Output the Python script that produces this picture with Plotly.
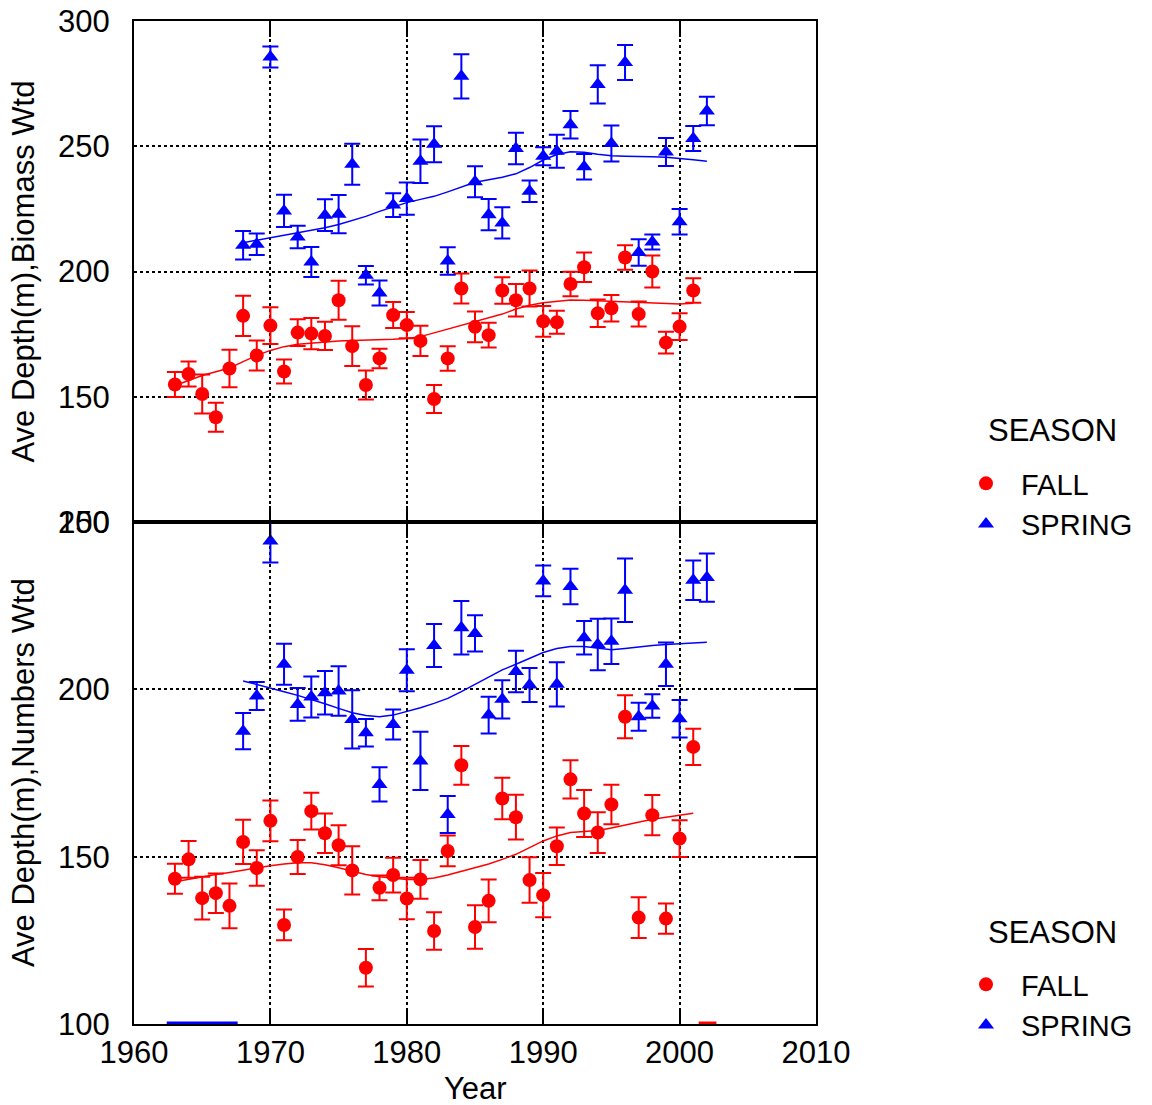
import plotly.graph_objects as go

# ---------------- data ----------------
fall_years = list(range(1963, 2002))
spring_years = list(range(1968, 2003))

# Top panel: Biomass weighted
bio_fall = [154.9, 159.1, 151.1, 141.8, 161.3, 182.3, 166.5, 178.4, 160.1, 175.6,
            175.2, 174.3, 188.5, 170.2, 154.7, 165.3, 182.6, 178.6, 172.3, 149.1,
            165.3, 193.2, 177.9, 174.6, 192.4, 188.5, 193.2, 180.1, 179.7, 195.0,
            201.7, 183.3, 185.3, 205.6, 183.0, 200.0, 171.6, 178.0, 192.4]
bio_fall_err = [5.0, 5.0, 7.8, 5.8, 7.5, 8.0, 6.0, 7.3, 4.8, 5.3,
                6.2, 5.6, 7.8, 7.9, 5.8, 3.9, 5.2, 5.2, 6.0, 5.6,
                4.9, 6.0, 6.1, 4.9, 5.3, 6.5, 7.2, 6.1, 4.6, 4.9,
                5.9, 5.5, 5.3, 4.9, 5.0, 6.4, 4.3, 5.3, 4.9]
bio_fall_smooth = [154.5, 156.5, 158.5, 160.0, 161.5, 164.0, 166.5, 168.5, 170.0, 171.0,
                   171.5, 172.0, 172.3, 172.5, 172.6, 172.8, 173.0, 173.3, 174.0, 175.5,
                   177.0, 178.5, 180.0, 181.5, 183.0, 185.0, 186.5, 187.5, 188.2, 188.6,
                   188.5, 188.3, 188.0, 187.8, 187.5, 187.3, 187.1, 187.0, 187.3]

bio_spring = [210.5, 210.9, 285.6, 224.2, 213.8, 203.8, 222.5, 222.9, 242.8, 198.5,
              191.4, 226.5, 229.1, 244.0, 250.8, 204.2, 277.9, 235.8, 222.7, 219.4,
              249.1, 232.0, 246.0, 248.0, 258.6, 241.8, 274.7, 251.1, 283.4, 207.6,
              211.8, 247.7, 219.9, 253.1, 264.1]
bio_spring_err = [5.7, 4.3, 4.2, 6.4, 4.5, 6.0, 6.3, 7.6, 8.2, 3.7,
                  5.0, 4.7, 6.4, 8.7, 7.2, 5.5, 8.8, 6.2, 6.2, 6.2,
                  6.3, 4.3, 3.6, 6.6, 5.5, 5.1, 7.6, 7.2, 7.0, 5.3,
                  3.0, 5.6, 5.1, 5.0, 5.7]
bio_spring_smooth = [211.5, 212.5, 213.5, 214.5, 215.3, 216.5, 217.5, 218.8, 220.3, 222.0,
                     224.0, 225.8, 227.5, 228.8, 230.0, 231.8, 233.7, 235.6, 236.6, 237.6,
                     239.0, 241.5, 244.5, 246.7, 247.8, 247.6, 246.8, 246.2, 246.0, 246.0,
                     245.8, 245.6, 245.2, 244.6, 244.0]

# Bottom panel: Numbers weighted
num_fall = [143.4, 149.2, 137.6, 139.1, 135.3, 154.4, 146.6, 160.7, 129.6, 149.9,
            163.6, 157.0, 153.4, 145.9, 116.8, 140.7, 144.5, 137.5, 143.2, 127.8,
            151.7, 177.3, 129.0, 136.8, 167.4, 161.8, 143.0, 138.5, 153.1, 173.1,
            162.9, 157.2, 165.6, 191.8, 131.8, 162.4, 131.5, 155.4, 182.8]
num_fall_err = [4.5, 5.5, 6.4, 5.9, 6.7, 6.6, 5.3, 6.1, 4.6, 5.1,
                5.5, 5.9, 6.0, 7.2, 5.6, 3.7, 5.2, 6.2, 5.8, 5.6,
                4.6, 5.8, 6.5, 6.4, 6.2, 6.7, 6.8, 6.6, 5.6, 5.7,
                7.0, 6.1, 5.9, 6.4, 6.1, 6.0, 4.5, 5.5, 5.4]
num_fall_smooth = [142.5, 143.3, 144.0, 144.7, 145.3, 146.0, 146.7, 147.3, 147.8, 148.2,
                   148.2, 147.6, 146.7, 145.7, 144.7, 144.0, 143.5, 143.2, 143.2, 143.6,
                   144.5, 145.6, 146.7, 147.8, 149.2, 150.7, 152.7, 154.7, 156.2, 157.2,
                   157.5, 157.8, 158.6, 159.5, 160.3, 161.2, 161.8, 162.4, 163.0]

num_spring = [187.5, 198.0, 244.3, 207.5, 195.5, 197.7, 199.0, 199.5, 191.0, 187.0,
              171.6, 189.5, 205.7, 178.6, 213.1, 162.6, 218.4, 216.7, 192.3, 197.0,
              205.3, 201.3, 232.4, 201.5, 230.7, 215.4, 213.4, 214.4, 229.6, 191.8,
              195.0, 207.5, 191.2, 232.6, 233.4]
num_spring_err = [5.4, 4.2, 6.4, 6.1, 4.9, 6.1, 6.5, 7.4, 8.7, 4.1,
                  5.1, 4.5, 6.3, 8.7, 6.4, 5.5, 8.0, 5.4, 5.5, 5.7,
                  6.2, 5.1, 4.6, 6.6, 5.3, 5.0, 7.7, 6.8, 9.5, 4.2,
                  3.5, 6.5, 5.6, 5.9, 7.2]
num_spring_smooth = [202.5, 201.5, 200.5, 199.3, 198.2, 197.0, 195.7, 194.3, 193.0, 192.2,
                     191.8, 192.3, 193.3, 194.5, 195.8, 197.3, 199.3, 201.5, 203.8, 205.8,
                     207.5, 209.3, 211.0, 212.2, 212.8, 212.8, 212.3, 211.8, 212.2, 212.7,
                     213.1, 213.4, 213.7, 213.9, 214.1]

# stray segments along the bottom axis
stray_spring_x = [1962.4, 1967.6]
stray_fall_x = [2001.4, 2002.7]
stray_y = [100, 100]

RED = "#ff0000"
BLUE = "#0000ff"
FONT = "Liberation Sans, Arial, sans-serif"

fig = go.Figure()


def add_panel(xa, ya, fy, fv, fe, fs, sy, sv, se, ss, legend):
    fig.add_trace(go.Scatter(x=sy, y=ss, mode="lines", line=dict(color=BLUE, width=1.5),
                             xaxis=xa, yaxis=ya, showlegend=False, hoverinfo="skip"))
    fig.add_trace(go.Scatter(x=fy, y=fs, mode="lines", line=dict(color=RED, width=1.5),
                             xaxis=xa, yaxis=ya, showlegend=False, hoverinfo="skip"))
    fig.add_trace(go.Scatter(x=fy, y=fv, mode="markers", name="FALL",
                             marker=dict(color=RED, symbol="circle", size=14),
                             error_y=dict(type="data", array=fe, color=RED, thickness=2, width=8),
                             xaxis=xa, yaxis=ya, legend=legend, cliponaxis=False))
    fig.add_trace(go.Scatter(x=sy, y=sv, mode="markers", name="SPRING",
                             marker=dict(color=BLUE, symbol="triangle-up", size=14),
                             error_y=dict(type="data", array=se, color=BLUE, thickness=2, width=8),
                             xaxis=xa, yaxis=ya, legend=legend, cliponaxis=False))


add_panel("x", "y", fall_years, bio_fall, bio_fall_err, bio_fall_smooth,
          spring_years, bio_spring, bio_spring_err, bio_spring_smooth, "legend")
add_panel("x2", "y2", fall_years, num_fall, num_fall_err, num_fall_smooth,
          spring_years, num_spring, num_spring_err, num_spring_smooth, "legend2")

fig.add_trace(go.Scatter(x=stray_spring_x, y=stray_y, mode="lines", line=dict(color=BLUE, width=5),
                         xaxis="x2", yaxis="y2", showlegend=False, hoverinfo="skip"))
fig.add_trace(go.Scatter(x=stray_fall_x, y=stray_y, mode="lines", line=dict(color=RED, width=5),
                         xaxis="x2", yaxis="y2", showlegend=False, hoverinfo="skip"))

# dummy traces for right-side tick axes
fig.add_trace(go.Scatter(x=[None], y=[None], xaxis="x", yaxis="y3", showlegend=False, hoverinfo="skip"))
fig.add_trace(go.Scatter(x=[None], y=[None], xaxis="x2", yaxis="y4", showlegend=False, hoverinfo="skip"))

PLOT_H = 1105 - 21 - 81
split = (1024 - 522) / PLOT_H


def py(pix):
    return (1024 - pix) / PLOT_H


def px(pix):
    return (pix - 134) / 682.0


xcommon = dict(range=[1960, 2010], tick0=1960, dtick=10, showline=True, linecolor="black",
               linewidth=2, mirror="ticks", ticks="inside", ticklen=16, tickwidth=2,
               tickcolor="black", showgrid=True, gridcolor="black", gridwidth=1.5,
               griddash="dot", zeroline=False, automargin=False,
               tickfont=dict(family=FONT, size=31, color="black"))
ycommon = dict(tick0=0, dtick=50, showline=True, linecolor="black", linewidth=2, mirror=True,
               ticks="", showgrid=True, gridcolor="black", gridwidth=1.5, griddash="dot",
               zeroline=False, ticklabelstandoff=16, automargin=False,
               tickfont=dict(family=FONT, size=31, color="black"))
yright = dict(side="right", ticks="inside", ticklen=22, tickwidth=2, tickcolor="black",
              showticklabels=False, showgrid=False, showline=False, zeroline=False,
              tick0=0, dtick=50, automargin=False)

legend_common = dict(x=px(951), xanchor="left", yanchor="top",
                     font=dict(family=FONT, size=29, color="black"), itemwidth=60,
                     bgcolor="rgba(0,0,0,0)", tracegroupgap=0)

fig.update_layout(
    width=1152, height=1105,
    margin=dict(l=134, r=336, t=21, b=81, autoexpand=False),
    paper_bgcolor="white", plot_bgcolor="white",
    xaxis=dict(domain=[0, 1], anchor="y", showticklabels=False, **xcommon),
    yaxis=dict(domain=[split, 1], anchor="x", range=[100, 300], **ycommon),
    xaxis2=dict(domain=[0, 1], anchor="y2", showticklabels=True, **xcommon),
    yaxis2=dict(domain=[0, split], anchor="x2", range=[100, 250], **ycommon),
    yaxis3=dict(overlaying="y", anchor="x", range=[100, 300], **yright),
    yaxis4=dict(overlaying="y2", anchor="x2", range=[100, 250], **yright),
    legend=dict(y=py(458), **legend_common),
    legend2=dict(y=py(959), **legend_common),
    annotations=[
        dict(text="Ave Depth(m),Biomass Wtd", xref="paper", yref="paper",
             x=px(23), y=(split + 1) / 2, textangle=-90, showarrow=False,
             xanchor="center", yanchor="middle",
             font=dict(family=FONT, size=31, color="black")),
        dict(text="Ave Depth(m),Numbers Wtd", xref="paper", yref="paper",
             x=px(23), y=split / 2, textangle=-90, showarrow=False,
             xanchor="center", yanchor="middle",
             font=dict(family=FONT, size=31, color="black")),
        dict(text="Year", xref="paper", yref="paper",
             x=0.5, y=py(1088), showarrow=False,
             xanchor="center", yanchor="middle",
             font=dict(family=FONT, size=31, color="black")),
        dict(text="SEASON", xref="paper", yref="paper",
             x=px(1052), y=py(430), showarrow=False,
             xanchor="center", yanchor="middle",
             font=dict(family=FONT, size=31, color="black")),
        dict(text="SEASON", xref="paper", yref="paper",
             x=px(1052), y=py(932), showarrow=False,
             xanchor="center", yanchor="middle",
             font=dict(family=FONT, size=31, color="black")),
    ],
)

fig.write_html("out.html")
